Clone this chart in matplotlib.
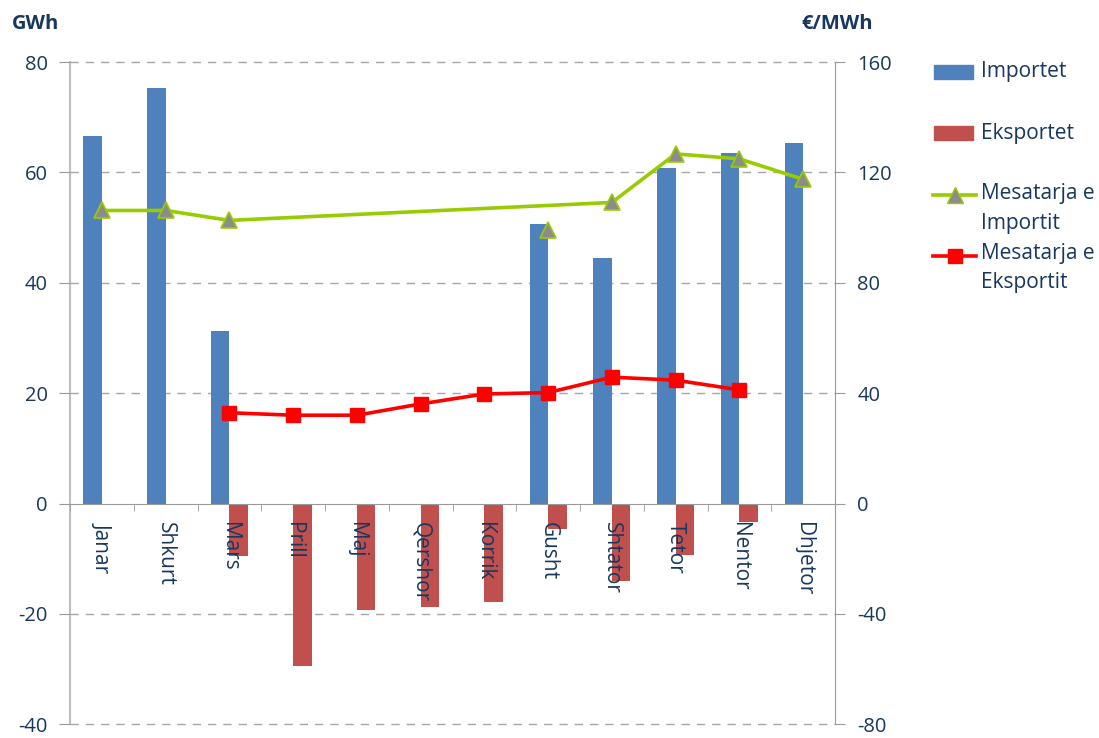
import numpy as np
import matplotlib
matplotlib.use('Agg')
import matplotlib.pyplot as plt
from matplotlib.lines import Line2D
from matplotlib.patches import Rectangle

muajt = ['Janar', 'Shkurt', 'Mars', 'Prill', 'Maj', 'Qershor', 'Korrik',
         'Gusht', 'Shtator', 'Tetor', 'Nentor', 'Dhjetor']
importet = [66.6, 75.3, 31.3, 0, 0, 0, 0, 50.6, 44.5, 60.8, 63.5, 65.4]
eksportet = [0, 0, -9.5, -29.4, -19.3, -18.8, -17.9, -4.6, -14.0, -9.3, -3.4, 0]
# cmimi mesatar (EUR/MWh), nan = pa vlere
cmimi_import = [106.2, 106.2, 102.6, np.nan, np.nan, np.nan, np.nan, 99.2, 109.1, 126.7, 124.9, 117.5]
cmimi_eksport = [np.nan, np.nan, 32.9, 32.0, 32.0, 36.1, 39.7, 40.2, 45.8, 44.7, 41.2, np.nan]

blu = '#4F81BD'
kuqe = '#C0504D'
jeshile = '#99CC00'
tekst = '#17375E'
gri = '#A6A6A6'

plt.rcParams['font.family'] = ['Open Sans', 'DejaVu Sans']
plt.rcParams['axes.unicode_minus'] = False

W, H = 1099, 738
fig = plt.figure(figsize=(W/100, H/100), dpi=100)
ax = fig.add_axes([70/W, 1-724.3/H, (835-70)/W, (724.3-62)/H])

x = np.arange(len(muajt))
w = 0.29
ax.bar(x - w/2, importet, w, color=blu, zorder=2)
ax.bar(x + w/2, eksportet, w, color=kuqe, zorder=2)

ax.set_xlim(-0.5, 11.5)
ax.set_ylim(-40, 80)
ax.set_yticks(np.arange(-40, 81, 20))
# vijat e rrjetit poshte shtyllave, etiketat e muajve siper tyre
ax.set_axisbelow(False)
for yv in ax.get_yticks():
    if yv != 0:
        ax.axhline(yv, color=gri, linestyle=(0, (6, 5)), linewidth=1.0, zorder=1, clip_on=False)

ax.spines['top'].set_visible(False)
ax.spines['right'].set_visible(False)
ax.spines['left'].set_color('#BFBFBF')
ax.spines['left'].set_linewidth(1.5)
ax.spines['bottom'].set_position(('data', 0))
ax.spines['bottom'].set_color('#999999')

ax.set_xticks(x)
ax.set_xticklabels(muajt, rotation=270, va='top', ha='center', fontsize=15, color=tekst)
ax.tick_params(axis='x', which='major', length=0, pad=13)
ax.set_xticks(np.arange(-0.5, 12, 1), minor=True)
ax.tick_params(axis='x', which='minor', length=5, color='#999999', direction='out')
ax.tick_params(axis='y', length=8, color='#999999', pad=8, labelsize=14.5, labelcolor=tekst)

ax2 = ax.twinx()
ax2.set_ylim(-80, 160)
ax2.set_yticks(np.arange(-80, 161, 40))
for s in ['top', 'left', 'bottom']:
    ax2.spines[s].set_visible(False)
ax2.spines['right'].set_color('#999999')
ax2.tick_params(axis='y', length=7, color='#999999', pad=9, labelsize=14.5, labelcolor=tekst)

ci = np.array(cmimi_import)
ce = np.array(cmimi_eksport)
# vija e importit kalon nga Marsi ne Shtator, Gushti vetem si pike
lidhur = [i for i in range(12) if not np.isnan(ci[i]) and muajt[i] != 'Gusht']
ax2.plot(x[lidhur], ci[lidhur], color=jeshile, linewidth=2.6, marker='^', markersize=12,
         markerfacecolor='#8C8C8C', markeredgecolor=jeshile, markeredgewidth=1.2, zorder=4)
gusht = muajt.index('Gusht')
ax2.plot([x[gusht]], [ci[gusht]], linestyle='none', marker='^', markersize=12,
         markerfacecolor='#8C8C8C', markeredgecolor=jeshile, markeredgewidth=1.2, zorder=4)
ax2.plot(x, ce, color='#FF0000', linewidth=2.6, marker='s', markersize=10,
         markerfacecolor='#FF0000', markeredgecolor='#FF0000', zorder=4)

fig.text(12/W, 1-24/H, 'GWh', fontsize=14.5, fontweight='bold', color=tekst, va='center', ha='left')
fig.text(837/W, 1-24/H, '€/MWh', fontsize=14.5, fontweight='bold', color=tekst, va='center', ha='center')

# legjenda e vizatuar me dore
def fx(px):
    return px / W

def fy(py):
    return 1 - py / H

fig.add_artist(Rectangle((fx(934), fy(79)), 39/W, 14/H, transform=fig.transFigure, color=blu))
fig.add_artist(Rectangle((fx(934), fy(140)), 39/W, 14/H, transform=fig.transFigure, color=kuqe))
fig.add_artist(Line2D([fx(933), fx(976)], [fy(195), fy(195)], transform=fig.transFigure,
                      color=jeshile, linewidth=2.6))
fig.add_artist(Line2D([fx(954.5)], [fy(195)], transform=fig.transFigure, marker='^',
                      markersize=12, markerfacecolor='#8C8C8C', markeredgecolor=jeshile))
fig.add_artist(Line2D([fx(933), fx(976)], [fy(256), fy(256)], transform=fig.transFigure,
                      color='#FF0000', linewidth=2.6))
fig.add_artist(Line2D([fx(954.5)], [fy(256)], transform=fig.transFigure, marker='s',
                      markersize=10, color='#FF0000'))
rreshtat = [('Importet', 72), ('Eksportet', 133), ('Mesatarja e', 194), ('Importit', 223),
            ('Mesatarja e', 254), ('Eksportit', 283)]
for t, py in rreshtat:
    fig.text(fx(981), fy(py), t, fontsize=15, color=tekst, va='center', ha='left')

plt.savefig('out.png', dpi=100)
